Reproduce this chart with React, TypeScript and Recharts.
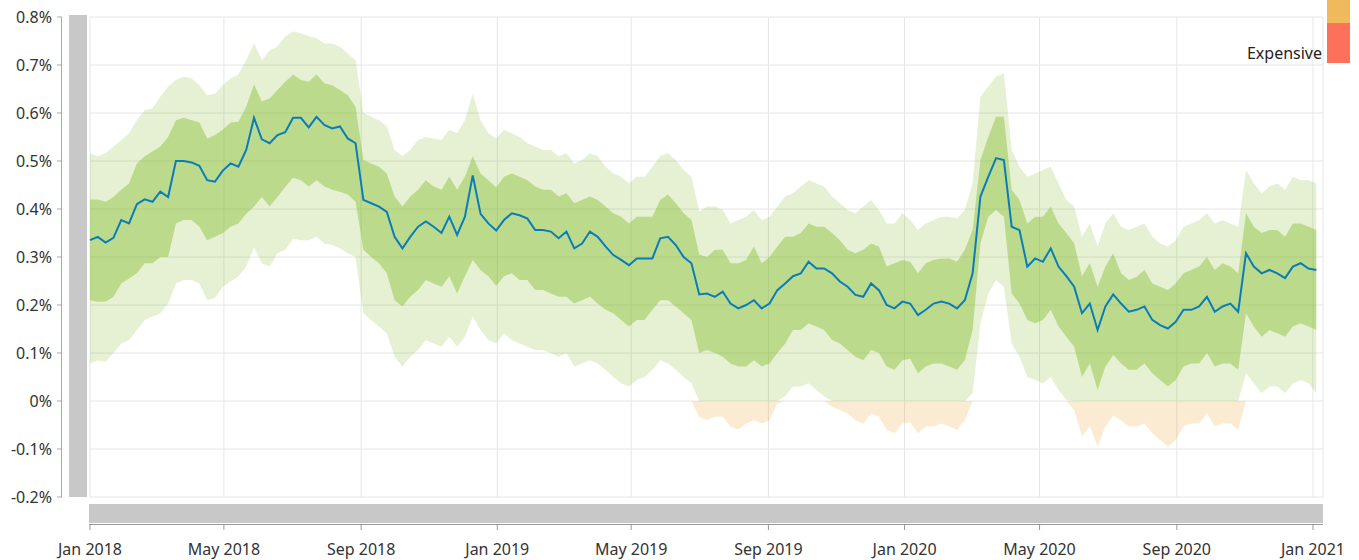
import { Area, CartesianGrid, ComposedChart, Line, XAxis, YAxis } from 'recharts';

const DAY = 86400000;
const START = Date.UTC(2018, 0, 1);
const END = Date.UTC(2021, 0, 10);

// weekly readings, in %
const middle = [
  0.335, 0.342, 0.33, 0.34, 0.377, 0.37, 0.41, 0.42, 0.415, 0.436, 0.425, 0.5, 0.5, 0.497, 0.49, 0.46, 0.457, 0.48, 0.495, 0.488,
  0.523, 0.59, 0.545, 0.537, 0.554, 0.56, 0.59, 0.59, 0.57, 0.592, 0.575, 0.568, 0.572, 0.547, 0.537, 0.419, 0.412, 0.405, 0.394, 0.342,
  0.318, 0.342, 0.363, 0.374, 0.363, 0.35, 0.384, 0.346, 0.384, 0.47, 0.39, 0.37, 0.355, 0.377, 0.391, 0.387, 0.38, 0.356, 0.356, 0.353,
  0.339, 0.353, 0.318, 0.328, 0.353, 0.342, 0.322, 0.304, 0.294, 0.283, 0.297, 0.297, 0.297, 0.339, 0.342, 0.325, 0.3, 0.287, 0.222, 0.224,
  0.217, 0.228, 0.203, 0.193, 0.2, 0.21, 0.193, 0.203, 0.231, 0.245, 0.26, 0.266, 0.29, 0.276, 0.276, 0.266, 0.249, 0.238, 0.221, 0.217,
  0.245, 0.231, 0.2, 0.193, 0.207, 0.203, 0.179, 0.19, 0.203, 0.207, 0.203, 0.193, 0.21, 0.266, 0.426, 0.467, 0.506, 0.502, 0.363, 0.356,
  0.28, 0.297, 0.29, 0.318, 0.28, 0.26, 0.238, 0.183, 0.203, 0.148, 0.197, 0.222, 0.203, 0.186, 0.19, 0.197, 0.169, 0.158, 0.151, 0.165,
  0.19, 0.19, 0.197, 0.217, 0.186, 0.197, 0.203, 0.186, 0.308, 0.28, 0.266, 0.273, 0.266, 0.256, 0.28, 0.287, 0.276, 0.273,
];

const innerHigh = [
  0.42, 0.42, 0.415, 0.425, 0.44, 0.453, 0.495, 0.51, 0.52, 0.53, 0.55, 0.585, 0.59, 0.585, 0.58, 0.547, 0.554, 0.565, 0.58, 0.582,
  0.613, 0.66, 0.624, 0.63, 0.648, 0.665, 0.68, 0.669, 0.665, 0.68, 0.662, 0.658, 0.648, 0.637, 0.613, 0.502, 0.495, 0.488, 0.474, 0.426,
  0.405, 0.426, 0.44, 0.46, 0.447, 0.44, 0.467, 0.44, 0.467, 0.51, 0.474, 0.46, 0.445, 0.467, 0.474, 0.467, 0.46, 0.447, 0.44, 0.44,
  0.426, 0.433, 0.412, 0.419, 0.426, 0.419, 0.405, 0.391, 0.384, 0.37, 0.384, 0.384, 0.384, 0.419, 0.43, 0.412, 0.391, 0.377, 0.305, 0.3,
  0.315, 0.315, 0.287, 0.287, 0.294, 0.322, 0.287, 0.3, 0.322, 0.342, 0.342, 0.35, 0.37, 0.363, 0.363, 0.35, 0.335, 0.315, 0.308, 0.315,
  0.328, 0.322, 0.28, 0.287, 0.294, 0.29, 0.266, 0.287, 0.294, 0.297, 0.297, 0.29, 0.315, 0.356, 0.502, 0.55, 0.592, 0.592, 0.44, 0.419,
  0.37, 0.384, 0.384, 0.405, 0.37, 0.35, 0.328, 0.26, 0.287, 0.238, 0.28, 0.308, 0.266, 0.252, 0.259, 0.273, 0.245, 0.238, 0.231, 0.245,
  0.266, 0.273, 0.28, 0.3, 0.273, 0.287, 0.28, 0.266, 0.391, 0.363, 0.35, 0.356, 0.356, 0.342, 0.37, 0.37, 0.363, 0.356,
];

const innerLow = [
  0.21, 0.207, 0.207, 0.217, 0.245, 0.255, 0.266, 0.287, 0.287, 0.3, 0.3, 0.37, 0.377, 0.377, 0.363, 0.335, 0.342, 0.35, 0.363, 0.37,
  0.39, 0.405, 0.425, 0.405, 0.425, 0.446, 0.465, 0.46, 0.447, 0.46, 0.447, 0.44, 0.436, 0.43, 0.415, 0.315, 0.3, 0.287, 0.266, 0.21,
  0.197, 0.217, 0.231, 0.252, 0.245, 0.238, 0.26, 0.224, 0.26, 0.294, 0.273, 0.26, 0.24, 0.26, 0.266, 0.252, 0.252, 0.231, 0.231, 0.224,
  0.217, 0.217, 0.203, 0.21, 0.217, 0.203, 0.19, 0.183, 0.169, 0.155, 0.169, 0.169, 0.19, 0.21, 0.21, 0.197, 0.183, 0.169, 0.1, 0.106,
  0.1, 0.092, 0.078, 0.072, 0.072, 0.085, 0.072, 0.078, 0.1, 0.12, 0.148, 0.148, 0.162, 0.155, 0.148, 0.127, 0.12, 0.106, 0.092, 0.085,
  0.106, 0.1, 0.072, 0.065, 0.085, 0.088, 0.058, 0.072, 0.078, 0.078, 0.072, 0.065, 0.085, 0.148, 0.328, 0.384, 0.398, 0.384, 0.224, 0.203,
  0.169, 0.162, 0.169, 0.19, 0.155, 0.134, 0.113, 0.05, 0.078, 0.023, 0.072, 0.096, 0.078, 0.065, 0.065, 0.078, 0.058, 0.044, 0.03, 0.044,
  0.072, 0.078, 0.078, 0.1, 0.072, 0.078, 0.078, 0.065, 0.183, 0.155, 0.134, 0.148, 0.141, 0.134, 0.155, 0.162, 0.155, 0.148,
];

const outerHigh = [
  0.516, 0.51, 0.516, 0.53, 0.544, 0.558, 0.585, 0.606, 0.61, 0.634, 0.655, 0.669, 0.676, 0.672, 0.658, 0.637, 0.64, 0.658, 0.672, 0.68,
  0.71, 0.745, 0.71, 0.73, 0.738, 0.76, 0.77, 0.766, 0.76, 0.756, 0.745, 0.745, 0.738, 0.724, 0.71, 0.6, 0.592, 0.585, 0.572, 0.523,
  0.51, 0.523, 0.544, 0.55, 0.547, 0.544, 0.565, 0.558, 0.585, 0.64, 0.585, 0.558, 0.547, 0.565, 0.558, 0.55, 0.537, 0.53, 0.523, 0.523,
  0.51, 0.516, 0.495, 0.502, 0.516, 0.51, 0.488, 0.474, 0.467, 0.453, 0.467, 0.467, 0.488, 0.51, 0.516, 0.502, 0.481, 0.467, 0.395, 0.405,
  0.405, 0.398, 0.37, 0.377, 0.384, 0.398, 0.377, 0.384, 0.405, 0.426, 0.433, 0.447, 0.46, 0.453, 0.447, 0.426, 0.412, 0.398, 0.391, 0.405,
  0.419, 0.398, 0.37, 0.37, 0.391, 0.377, 0.356, 0.37, 0.377, 0.384, 0.384, 0.38, 0.398, 0.453, 0.634, 0.655, 0.676, 0.683, 0.523, 0.488,
  0.467, 0.474, 0.481, 0.488, 0.453, 0.419, 0.405, 0.342, 0.37, 0.322, 0.37, 0.391, 0.363, 0.356, 0.363, 0.37, 0.342, 0.328, 0.322, 0.335,
  0.363, 0.37, 0.377, 0.391, 0.37, 0.377, 0.37, 0.363, 0.481, 0.453, 0.433, 0.447, 0.453, 0.44, 0.467, 0.46, 0.46, 0.453,
];

const outerLow = [
  0.078, 0.085, 0.082, 0.1, 0.12, 0.127, 0.148, 0.169, 0.176, 0.183, 0.203, 0.245, 0.252, 0.252, 0.245, 0.21, 0.215, 0.238, 0.249, 0.26,
  0.28, 0.32, 0.287, 0.28, 0.308, 0.315, 0.338, 0.335, 0.335, 0.342, 0.328, 0.325, 0.318, 0.308, 0.3, 0.183, 0.169, 0.155, 0.141, 0.092,
  0.072, 0.092, 0.106, 0.127, 0.12, 0.113, 0.134, 0.113, 0.134, 0.176, 0.148, 0.127, 0.12, 0.141, 0.127, 0.12, 0.113, 0.106, 0.106, 0.1,
  0.092, 0.1, 0.072, 0.078, 0.085, 0.078, 0.065, 0.05, 0.037, 0.03, 0.044, 0.05, 0.065, 0.085, 0.078, 0.065, 0.05, 0.037, -0.033, -0.04,
  -0.033, -0.033, -0.053, -0.06, -0.047, -0.04, -0.047, -0.04, -0.005, 0.01, 0.03, 0.03, 0.037, 0.023, 0.01, -0.012, -0.019, -0.026, -0.04, -0.047,
  -0.026, -0.033, -0.06, -0.067, -0.047, -0.045, -0.067, -0.053, -0.053, -0.047, -0.053, -0.06, -0.04, 0.016, 0.162, 0.224, 0.252, 0.238, 0.12, 0.092,
  0.05, 0.044, 0.037, 0.05, 0.023, 0.002, -0.019, -0.074, -0.053, -0.095, -0.053, -0.03, -0.04, -0.053, -0.053, -0.047, -0.067, -0.081, -0.095, -0.081,
  -0.053, -0.047, -0.047, -0.026, -0.053, -0.047, -0.047, -0.06, 0.058, 0.037, 0.016, 0.03, 0.03, 0.016, 0.037, 0.044, 0.037, 0.016,
];

const xTicks = [
  Date.UTC(2018, 0, 1), Date.UTC(2018, 4, 1), Date.UTC(2018, 8, 1),
  Date.UTC(2019, 0, 1), Date.UTC(2019, 4, 1), Date.UTC(2019, 8, 1),
  Date.UTC(2020, 0, 1), Date.UTC(2020, 4, 1), Date.UTC(2020, 8, 1),
  Date.UTC(2021, 0, 1),
];
const yTicks = [-0.2, -0.1, 0, 0.1, 0.2, 0.3, 0.4, 0.5, 0.6, 0.7, 0.8];
const MONTHS = ['Jan', 'Feb', 'Mar', 'Apr', 'May', 'Jun', 'Jul', 'Aug', 'Sep', 'Oct', 'Nov', 'Dec'];

const data = middle.map((v, i) => ({
  t: START + i * 7 * DAY,
  middle: v,
  inner: [innerLow[i], innerHigh[i]],
  outer: [Math.max(outerLow[i], 0), outerHigh[i]],
  below: [Math.min(outerLow[i], 0), 0],
}));

const FONT = '"Noto Sans", sans-serif';

function YTick(props: any) {
  const { y, payload } = props;
  const v = Math.round(payload.value * 10) / 10;
  return (
    <g>
      <text x={52} y={y} textAnchor="end" dominantBaseline="central" fontSize={16} fill="#333" fontFamily={FONT}>
        {v === 0 ? '0%' : `${v}%`}
      </text>
      <line x1={57} x2={62} y1={y} y2={y} stroke="#aaa" />
    </g>
  );
}

function XTick(props: any) {
  const { x, payload } = props;
  const d = new Date(payload.value);
  return (
    <g>
      <line x1={x} x2={x} y1={524} y2={530} stroke="#999" />
      <text x={x} y={549} textAnchor="middle" dominantBaseline="central" fontSize={16} fill="#333" fontFamily={FONT}>
        {`${MONTHS[d.getUTCMonth()]} ${d.getUTCFullYear()}`}
      </text>
    </g>
  );
}

export default function App() {
  return (
    <div style={{ position: 'absolute', left: 0, top: 0, width: 1359, height: 560, background: '#fff' }}>
      <div style={{ position: 'absolute', left: 69, top: 15, width: 18, height: 482, background: '#c8c8c8' }} />
      <div style={{ position: 'absolute', left: 89, top: 504, width: 1234, height: 19, background: '#c8c8c8' }} />
      <div style={{ position: 'absolute', left: 61, top: 17, width: 1, height: 480, background: '#aaa' }} />
      <div style={{ position: 'absolute', left: 89, top: 524, width: 1234, height: 1, background: '#999' }} />
      <ComposedChart width={1359} height={560} data={data} margin={{ top: 17, right: 36, bottom: 0, left: 0 }}>
        <CartesianGrid stroke="#e6e6e6" />
        <XAxis
          dataKey="t"
          type="number"
          scale="time"
          domain={[START, END]}
          ticks={xTicks}
          height={63}
          axisLine={false}
          tickLine={false}
          tick={<XTick />}
          interval={0}
        />
        <YAxis
          type="number"
          domain={[-0.2, 0.8]}
          ticks={yTicks}
          width={90}
          axisLine={false}
          tickLine={false}
          tick={<YTick />}
          interval={0}
        />
        <Area dataKey="outer" type="linear" stroke="none" fill="#7bb71e" fillOpacity={0.2} isAnimationActive={false} activeDot={false} />
        <Area dataKey="below" type="linear" stroke="none" fill="#f0a537" fillOpacity={0.22} isAnimationActive={false} activeDot={false} />
        <Area dataKey="inner" type="linear" stroke="none" fill="#7bb71e" fillOpacity={0.39} isAnimationActive={false} activeDot={false} />
        <Line dataKey="middle" type="linear" stroke="#0a7db8" strokeWidth={2} dot={false} isAnimationActive={false} activeDot={false} />
      </ComposedChart>
      <div style={{ position: 'absolute', left: 1327, top: 0, width: 23, height: 23, background: '#f0b95b' }} />
      <div style={{ position: 'absolute', left: 1327, top: 23, width: 23, height: 40, background: '#fd705a' }} />
      <div
        style={{
          position: 'absolute',
          right: 1359 - 1322,
          top: 42,
          fontFamily: FONT,
          fontSize: 16,
          color: '#222',
          lineHeight: '22px',
        }}
      >
        Expensive
      </div>
    </div>
  );
}
